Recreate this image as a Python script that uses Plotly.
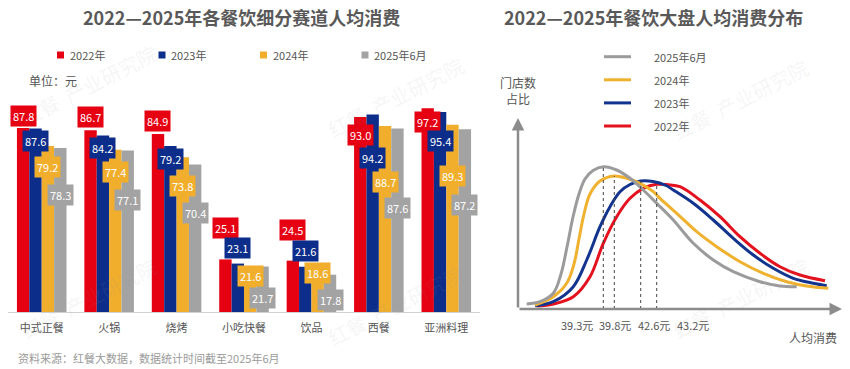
import plotly.graph_objects as go

W, H = 850, 369
FONT = "Noto Sans CJK SC, Noto Sans, sans-serif"

# ---------------- data: left panel ----------------
categories = ["中式正餐", "火锅", "烧烤", "小吃快餐", "饮品", "西餐", "亚洲料理"]
series_names = ["2022年", "2023年", "2024年", "2025年6月"]
v2022 = [87.8, 86.7, 84.9, 25.1, 24.5, 93.0, 97.2]
v2023 = [87.6, 84.2, 79.2, 23.1, 21.6, 94.2, 95.4]
v2024 = [79.2, 77.4, 73.8, 21.6, 18.6, 88.7, 89.3]
v2025 = [78.3, 77.1, 70.4, 21.7, 17.8, 87.6, 87.2]

# ---------------- data: right panel (abstract units) ----------------
dist_names = ["2022年", "2023年", "2024年", "2025年6月"]
red_x = [18.7, 35.3, 55.3, 72, 85.3, 98.7, 112, 125.3, 138.7, 150, 162, 182, 202, 222, 242, 262, 282, 307]
red_y = [3, 5, 12.3, 32.3, 65.7, 92.3, 110.7, 120.7, 124.7, 124.3, 122.3, 109, 92.3, 72.3, 55.7, 42.3, 34, 28.3]
blue_x = [17, 35.3, 55.3, 68.7, 82, 92, 102, 112, 122.7, 135, 148, 155.3, 175.3, 195.3, 215.3, 235.3, 255.3, 275.3, 295.3, 308.7]
blue_y = [3.3, 7.3, 22.3, 49, 82.3, 102.3, 117.3, 124.5, 128, 127.5, 123.5, 119, 105.7, 89, 70.7, 54, 40.7, 30.7, 25.7, 23.3]
yellow_x = [17, 35.3, 48.7, 56, 61, 66, 72, 82, 96.3, 108.7, 122, 135.3, 142, 158.7, 178.7, 198.7, 222, 245.3, 268.7, 288.7, 310.3]
yellow_y = [4, 12.3, 25.7, 45, 70, 95, 115, 128, 133, 130.7, 125.7, 117.3, 110.7, 95.7, 77.3, 62.3, 47.3, 35.7, 27.3, 23, 20.7]
gray_x = [8.7, 22, 35.3, 43, 49, 55, 61, 67, 75, 85.3, 98.7, 112, 125.3, 138.7, 155.3, 175.3, 195.3, 215.3, 242, 262, 278.7]
gray_y = [5, 7.3, 15.7, 35, 62, 92, 115, 130, 138.5, 142.3, 139, 130.7, 119, 105.7, 89, 65.7, 49, 37.3, 27.3, 23, 22.3]
dist_tick_labels = ["39.3元", "39.8元", "42.6元", "43.2元"]

# ---------------- styles ----------------
bar_colors = ["#E50012", "#0C2D8A", "#F0AE2C", "#A3A3A3"]
line_colors = ["#E3121E", "#12348E", "#F0B22E", "#9B9B9B"]
TXT = "#555555"

# pixel helpers (layout only)
def px(x):
    return x / W

def py(y):
    return 1 - y / H

L_X0, L_X1, L_Y0, L_Y1 = 8, 480, 312, 100
PX_PER_UNIT = 2.096
L_RANGE = (L_Y0 - L_Y1) / PX_PER_UNIT
R_X0, R_X1, R_Y0, R_Y1 = 518, 842, 309, 118

# value label centres (axis units) for each series/category, placed like the original
label_y = [
    [93.7, 93.0, 90.9, 40.1, 38.9, 84.4, 90.5],
    [81.6, 78.1, 73.1, 30.5, 29.3, 73.3, 81.8],
    [69.4, 67.0, 60.2, 17.4, 18.4, 62.2, 65.1],
    [55.6, 53.4, 47.1, 6.7, 5.5, 49.5, 51.0],
]
label_xshift = [-18.6, -6.2, 6.2, 18.6]

fig = go.Figure()

values = [v2022, v2023, v2024, v2025]
for name, vals, col in zip(series_names, values, bar_colors):
    fig.add_trace(go.Bar(x=categories, y=vals, name=name, marker=dict(color=col, line=dict(width=0)),
                         xaxis="x", yaxis="y", showlegend=False, hoverinfo="x+y+name"))

curves = [(red_x, red_y), (blue_x, blue_y), (yellow_x, yellow_y), (gray_x, gray_y)]
for name, (cx, cy), col in zip(dist_names, curves, line_colors):
    fig.add_trace(go.Scatter(x=cx, y=cy, name=name, mode="lines",
                             line=dict(color=col, width=3, shape="spline", smoothing=1.0),
                             xaxis="x2", yaxis="y2", showlegend=False))

ann = []
shapes = []


def text_ann(x, y, text, size=11, color=TXT, xanchor="center", **kw):
    d = dict(x=px(x), y=py(y), xref="paper", yref="paper", text=text, showarrow=False,
             xanchor=xanchor, yanchor="middle", font=dict(family=FONT, size=size, color=color))
    d.update(kw)
    return d


# faint watermarks
for (wx, wy) in [(88, 85), (395, 97), (740, 100), (88, 298), (395, 305), (740, 298)]:
    ann.append(text_ann(wx, wy, "红餐  产业研究院", size=20, color="rgba(150,150,150,0.10)",
                        textangle=-27))

# value labels
for s, (vals, col) in enumerate(zip(values, bar_colors)):
    for i, cat in enumerate(categories):
        ann.append(dict(x=cat, y=label_y[s][i], xref="x", yref="y", text=f"{vals[i]:.1f}",
                        showarrow=False, xanchor="center", yanchor="middle",
                        xshift=label_xshift[s], bgcolor=col, borderpad=2,
                        font=dict(family=FONT, size=11, color="white")))

# titles
ann.append(text_ann(241.5, 17, "<b>2022—2025年各餐饮细分赛道人均消费</b>", size=18, color="#595959"))
ann.append(text_ann(653, 17, "<b>2022—2025年餐饮大盘人均消费分布</b>", size=18, color="#595959"))

# left legend (hand laid out)
for k, (name, col) in enumerate(zip(series_names, bar_colors)):
    x0 = 57 + k * 101.5
    shapes.append(dict(type="rect", xref="paper", yref="paper", x0=px(x0), x1=px(x0 + 7),
                       y0=py(58.5), y1=py(51.5), fillcolor=col, line=dict(width=0)))
    ann.append(text_ann(x0 + 10.5, 55, name, xanchor="left"))

ann.append(text_ann(27, 80, "单位：元", size=12, xanchor="left"))
ann.append(text_ann(16, 358, "资料来源：红餐大数据，数据统计时间截至2025年6月", color="#9a9a9a", xanchor="left"))

# right legend (hand laid out, top to bottom: 2025年6月, 2024年, 2023年, 2022年)
for k, idx in enumerate([3, 2, 1, 0]):
    yy = 56.7 + k * 23.1
    shapes.append(dict(type="line", xref="paper", yref="paper", x0=px(604), x1=px(631),
                       y0=py(yy), y1=py(yy), line=dict(color=line_colors[idx], width=3)))
    ann.append(text_ann(652, yy, dist_names[idx], xanchor="left"))

# right axes arrows
AX_COL = "#8C8C8C"
ann.append(dict(x=324, y=0, xref="x2", yref="y2", ax=0, ay=0, axref="x2", ayref="y2", text="",
                showarrow=True, arrowhead=2, arrowsize=1, arrowwidth=2.5, arrowcolor=AX_COL, standoff=0))
ann.append(dict(x=0, y=191, xref="x2", yref="y2", ax=0, ay=0, axref="x2", ayref="y2", text="",
                showarrow=True, arrowhead=2, arrowsize=1, arrowwidth=2.5, arrowcolor=AX_COL, standoff=0))

ann.append(text_ann(518, 90, "门店数<br>占比", size=12))
ann.append(text_ann(813, 337, "人均消费", size=12))

# dashed lines at each curve's peak
for (cx, cy) in [gray_x, gray_y], [yellow_x, yellow_y], [blue_x, blue_y], [red_x, red_y]:
    j = max(range(len(cy)), key=lambda t: cy[t])
    shapes.append(dict(type="line", xref="x2", yref="y2", x0=cx[j], x1=cx[j], y0=0, y1=cy[j],
                       line=dict(color="#444444", width=1, dash="dot")))

# tick labels under the right axis
tick_px = [577, 615, 654, 693]
for lab, tx in zip(dist_tick_labels, tick_px):
    ann.append(text_ann(tx, 325, lab))

fig.update_layout(
    width=W, height=H,
    margin=dict(l=0, r=0, t=0, b=0),
    paper_bgcolor="white", plot_bgcolor="white",
    font=dict(family=FONT, color=TXT),
    barmode="group", bargap=0.265, bargroupgap=0,
    xaxis=dict(domain=[px(L_X0), px(L_X1)], type="category", showline=True, linecolor="#D0D0D0",
               linewidth=1, ticks="", showgrid=False, zeroline=False, ticklabelstandoff=6,
               tickfont=dict(family=FONT, size=11, color=TXT), fixedrange=True, anchor="y"),
    yaxis=dict(domain=[py(L_Y0), py(L_Y1)], range=[0, L_RANGE], visible=False, fixedrange=True),
    xaxis2=dict(domain=[px(R_X0), px(R_X1)], range=[0, R_X1 - R_X0], visible=False, fixedrange=True,
                anchor="y2"),
    yaxis2=dict(domain=[py(R_Y0), py(R_Y1)], range=[0, R_Y0 - R_Y1], visible=False, fixedrange=True,
                anchor="x2"),
    annotations=ann, shapes=shapes, showlegend=False,
)

fig.write_html("out.html", config={"displayModeBar": False},
               post_script="document.body.style.margin='0';document.body.style.overflow='hidden';")
